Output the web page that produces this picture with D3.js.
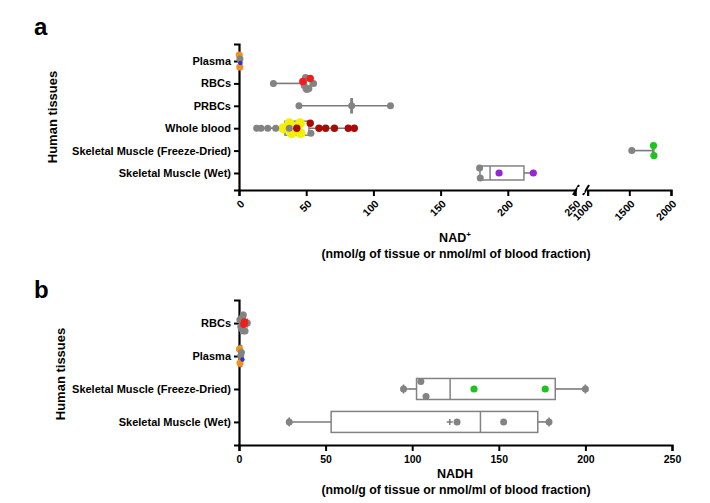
<!DOCTYPE html>
<html>
<head>
<meta charset="utf-8">
<script src="https://cdn.jsdelivr.net/npm/d3@7"></script>
<style>
  body { margin: 0; background: #fff; }
  text { font-family: "Liberation Sans", Arial, sans-serif; font-weight: bold; fill: #000; }
</style>
</head>
<body>
<div id="chart"></div>
<script>
// ---- panel a : NAD+ ----
var nadCats = ["Plasma", "RBCs", "PRBCs", "Whole blood", "Skeletal Muscle (Freeze-Dried)", "Skeletal Muscle (Wet)"];
var nadMin = [0.2, 25.6, 44.6, 13.2, 1530, 179];
var nadQ1  = [0.3, 48, 83.3, 34.2, 1780, 179.3];
var nadMed = [0.6, 50, 83.8, 42, 1788, 186.8];
var nadQ3  = [0.9, 53, 84.3, 52, 1795, 212];
var nadMax = [1.2, 56, 112.7, 85.8, 1795, 219];
var nadTicksLow = [0, 50, 100, 150, 200, 250];
var nadTicksHigh = [1000, 1500, 2000];
// [category, value, source]
var nadPoints = [
  ["Plasma", 0.7, "A"], ["Plasma", 1.1, "C"], ["Plasma", 0.2, "B"], ["Plasma", 0.6, "B"],
  ["RBCs", 25.6, "A"], ["RBCs", 47.5, "D"], ["RBCs", 48.5, "A"], ["RBCs", 49.5, "A"], ["RBCs", 50.5, "A"],
  ["RBCs", 53, "D"], ["RBCs", 52, "A"], ["RBCs", 55.5, "A"],
  ["PRBCs", 44.6, "A"], ["PRBCs", 83.8, "A"], ["PRBCs", 112.7, "A"],
  ["Whole blood", 13.2, "A"], ["Whole blood", 16.4, "A"], ["Whole blood", 21.4, "A"], ["Whole blood", 27.3, "A"],
  ["Whole blood", 37.4, "A"], ["Whole blood", 43, "E"], ["Whole blood", 53, "E"], ["Whole blood", 53.5, "A"],
  ["Whole blood", 33, "F"], ["Whole blood", 37.5, "F"], ["Whole blood", 39, "F"], ["Whole blood", 45.4, "F"], ["Whole blood", 45.8, "F"],
  ["Whole blood", 59.5, "E"], ["Whole blood", 64.5, "E"], ["Whole blood", 71, "E"], ["Whole blood", 81.3, "E"], ["Whole blood", 85.8, "E"],
  ["Skeletal Muscle (Freeze-Dried)", 1530, "A"], ["Skeletal Muscle (Freeze-Dried)", 1790, "G"], ["Skeletal Muscle (Freeze-Dried)", 1795, "G"],
  ["Skeletal Muscle (Wet)", 179, "A"], ["Skeletal Muscle (Wet)", 179.5, "A"], ["Skeletal Muscle (Wet)", 193.5, "H"], ["Skeletal Muscle (Wet)", 219, "H"]
];

// ---- panel b : NADH ----
var nadhCats = ["RBCs", "Plasma", "Skeletal Muscle (Freeze-Dried)", "Skeletal Muscle (Wet)"];
var nadhMin = [0.5, 0.3, 95, 29];
var nadhQ1  = [1, 0.5, 102.5, 53.2];
var nadhMed = [2, 1, 121.9, 139.4];
var nadhQ3  = [3, 1.5, 182.6, 172.5];
var nadhMax = [4.8, 2, 200, 179];
var nadhMean = [null, null, null, 121.7];
var nadhTicks = [0, 50, 100, 150, 200, 250];
var nadhPoints = [
  ["RBCs", 2.8, "D"], ["RBCs", 3.2, "D"], ["RBCs", 0.5, "A"], ["RBCs", 1, "A"], ["RBCs", 1.5, "A"],
  ["RBCs", 2, "A"], ["RBCs", 2.5, "A"], ["RBCs", 3.5, "A"], ["RBCs", 4.8, "A"],
  ["Plasma", 1, "A"], ["Plasma", 1.4, "A"], ["Plasma", 2, "C"], ["Plasma", 0.3, "B"], ["Plasma", 0.6, "B"],
  ["Skeletal Muscle (Freeze-Dried)", 95, "A"], ["Skeletal Muscle (Freeze-Dried)", 105, "A"], ["Skeletal Muscle (Freeze-Dried)", 108, "A"],
  ["Skeletal Muscle (Freeze-Dried)", 135.7, "G"], ["Skeletal Muscle (Freeze-Dried)", 176.8, "G"], ["Skeletal Muscle (Freeze-Dried)", 200, "A"],
  ["Skeletal Muscle (Wet)", 29, "A"], ["Skeletal Muscle (Wet)", 125.9, "A"], ["Skeletal Muscle (Wet)", 152.8, "A"], ["Skeletal Muscle (Wet)", 179, "A"]
];

var sources = ["A", "B", "C", "D", "E", "F", "G", "H"];
var drawOrder = ["F", "B", "A", "C", "G", "H", "D", "E"];
var color = d3.scaleOrdinal().domain(sources)
  .range(["#838383", "#f5901e", "#3232c8", "#f21c1c", "#a80a0a", "#f5f000", "#1cc41c", "#9b22d6"]);
var radius = d3.scaleOrdinal().domain(sources).range([3.5, 3.6, 2.2, 3.7, 3.7, 5, 3.6, 3.6]);

var w = 710, h = 503;
var svg = d3.select("#chart").append("svg").attr("width", w).attr("height", h);

// spread points that fall close together (same x bin) vertically, centred on the category
function scatterOffsets(points, xf, binW, pairSpan) {
  var groups = d3.group(points, function(p){ return p.cat; });
  groups.forEach(function(list){
    list.forEach(function(p, i){ p.x = xf(p.v); p.order = i; });
    var sorted = list.slice().sort(function(a, b){ return a.x - b.x; });
    var bins = [], cur = null;
    sorted.forEach(function(p){
      if (!cur || p.x - cur.start > binW) { cur = { start: p.x, pts: [] }; bins.push(cur); }
      cur.pts.push(p);
    });
    bins.forEach(function(b){
      var n = b.pts.length;
      if (n === 1) { b.pts[0].dy = 0; return; }
      var span = n === 2 ? pairSpan : Math.min(16, 10 + (n - 3) * 2);
      var slots = d3.range(n).map(function(k){ return -span / 2 + k * span / (n - 1); });
      slots.sort(function(a, c){ return Math.abs(a) - Math.abs(c) || a - c; });
      b.pts.sort(function(a, c){ return a.order - c.order; });
      b.pts.forEach(function(p, k){ p.dy = slots[k]; });
    });
  });
}

function drawPanel(g, cats, st, pts, xf, y, opt) {
  var boxH = opt.boxH, capH = opt.capH;
  var box = g.append("g");
  cats.forEach(function(c, i){
    var yc = y(c);
    box.append("line").attr("x1", xf(st.min[i])).attr("x2", xf(st.q1[i]))
      .attr("y1", yc).attr("y2", yc).attr("stroke", "#7a7a7a").attr("stroke-width", 1.6);
    box.append("line").attr("x1", xf(st.q3[i])).attr("x2", xf(st.max[i]))
      .attr("y1", yc).attr("y2", yc).attr("stroke", "#7a7a7a").attr("stroke-width", 1.6);
    if (capH) {
      [st.min[i], st.max[i]].forEach(function(v){
        box.append("line").attr("x1", xf(v)).attr("x2", xf(v))
          .attr("y1", yc - capH / 2).attr("y2", yc + capH / 2).attr("stroke", "#7a7a7a").attr("stroke-width", 1.6);
      });
    }
    box.append("rect").attr("x", xf(st.q1[i])).attr("y", yc - boxH / 2)
      .attr("width", Math.max(0.5, xf(st.q3[i]) - xf(st.q1[i]))).attr("height", boxH)
      .attr("fill", "none").attr("stroke", "#828282").attr("stroke-width", 1.5);
    box.append("line").attr("x1", xf(st.med[i])).attr("x2", xf(st.med[i]))
      .attr("y1", yc - boxH / 2).attr("y2", yc + boxH / 2).attr("stroke", "#828282").attr("stroke-width", 1.5);
    if (st.mean && st.mean[i] != null) {
      var mx = xf(st.mean[i]);
      box.append("path").attr("d", "M" + (mx - 3) + "," + yc + "H" + (mx + 3) + "M" + mx + "," + (yc - 3) + "V" + (yc + 3))
        .attr("stroke", "#7a7a7a").attr("stroke-width", 1.5);
    }
  });
  var data = pts.map(function(p){ return { cat: p[0], v: p[1], src: p[2], r: radius(p[2]) }; });
  scatterOffsets(data, xf, opt.binW, opt.pairSpan);
  data.sort(function(a, b){ return drawOrder.indexOf(a.src) - drawOrder.indexOf(b.src); });
  g.append("g").selectAll("circle").data(data).enter().append("circle")
    .attr("cx", function(d){ return d.x; })
    .attr("cy", function(d){ return y(d.cat) + d.dy; })
    .attr("r", function(d){ return d.r; })
    .attr("fill", function(d){ return color(d.src); });
}

function styleAxis(sel) {
  sel.select(".domain").attr("stroke", "#000").attr("stroke-width", 2.2);
  sel.selectAll(".tick line").attr("stroke", "#000").attr("stroke-width", 2);
  sel.selectAll(".tick text").style("font-size", "10.5px").style("font-weight", "bold").attr("fill", "#000");
}

// ===== panel a =====
var xaLow = d3.scaleLinear().domain([0, 250]).range([239, 575]);
var xaHigh = d3.scaleLinear().domain([1000, 2000]).range([587.6, 671]);
function xa(v) { return v <= 250 ? xaLow(v) : xaHigh(v); }
var ya = d3.scalePoint().domain(nadCats).range([44, 190]).padding(0.76);

var ga = svg.append("g");
var axA = ga.append("g").attr("transform", "translate(239,0)")
  .call(d3.axisLeft(ya).tickSizeOuter(0).tickSize(5).tickPadding(3));
styleAxis(axA);
axA.selectAll(".tick text").style("font-size", "11px");

[[xaLow, nadTicksLow], [xaHigh, nadTicksHigh]].forEach(function(s){
  var ax = ga.append("g").attr("transform", "translate(0,190)")
    .call(d3.axisBottom(s[0]).tickValues(s[1]).tickFormat(d3.format("d")).tickSizeOuter(0).tickSize(6));
  styleAxis(ax);
  ax.selectAll(".tick text").attr("y", 0).attr("dy", "0.35em")
    .attr("text-anchor", "end").attr("transform", "translate(3,12) rotate(-45)");
});
// axis break marks
[576, 586].forEach(function(bx){
  ga.append("line").attr("x1", bx - 3).attr("x2", bx + 3).attr("y1", 195).attr("y2", 185)
    .attr("stroke", "#000").attr("stroke-width", 2);
});
ga.append("rect").attr("x", 577.5).attr("y", 187).attr("width", 7).attr("height", 6).attr("fill", "#fff");

drawPanel(ga, nadCats, { min: nadMin, q1: nadQ1, med: nadMed, q3: nadQ3, max: nadMax }, nadPoints, xa, ya,
  { boxH: 14, capH: 0, binW: 4.2, pairSpan: 10 });

var tA = ga.append("text").attr("x", 455).attr("y", 242).attr("text-anchor", "middle").style("font-size", "12.5px");
tA.append("tspan").text("NAD");
tA.append("tspan").text("+").attr("dy", -5).style("font-size", "8px");
ga.append("text").attr("x", 456).attr("y", 258).attr("text-anchor", "middle").style("font-size", "12.3px")
  .text("(nmol/g of tissue or nmol/ml of blood fraction)");
ga.append("text").attr("transform", "translate(57,117) rotate(-90)").attr("text-anchor", "middle")
  .style("font-size", "13px").text("Human tissues");
ga.append("text").attr("x", 34).attr("y", 35).style("font-size", "24px").text("a");

// ===== panel b =====
var xb = d3.scaleLinear().domain([0, 250]).range([239, 672]);
var yb = d3.scalePoint().domain(nadhCats).range([300, 445]).padding(0.7);

var gb = svg.append("g");
var axBy = gb.append("g").attr("transform", "translate(239,0)")
  .call(d3.axisLeft(yb).tickSizeOuter(0).tickSize(5).tickPadding(3));
styleAxis(axBy);
axBy.selectAll(".tick text").style("font-size", "11px");
var axBx = gb.append("g").attr("transform", "translate(0,445)")
  .call(d3.axisBottom(xb).tickValues(nadhTicks).tickSizeOuter(0).tickSize(6).tickPadding(5));
styleAxis(axBx);

drawPanel(gb, nadhCats, { min: nadhMin, q1: nadhQ1, med: nadhMed, q3: nadhQ3, max: nadhMax, mean: nadhMean }, nadhPoints, xb, yb,
  { boxH: 21, capH: 9, binW: 6, pairSpan: 15 });

gb.append("text").attr("x", 455).attr("y", 478).attr("text-anchor", "middle").style("font-size", "12.5px").text("NADH");
gb.append("text").attr("x", 456).attr("y", 494).attr("text-anchor", "middle").style("font-size", "12.3px")
  .text("(nmol/g of tissue or nmol/ml of blood fraction)");
gb.append("text").attr("transform", "translate(65,374) rotate(-90)").attr("text-anchor", "middle")
  .style("font-size", "13px").text("Human tissues");
gb.append("text").attr("x", 34).attr("y", 298).style("font-size", "24px").text("b");
</script>
</body>
</html>
